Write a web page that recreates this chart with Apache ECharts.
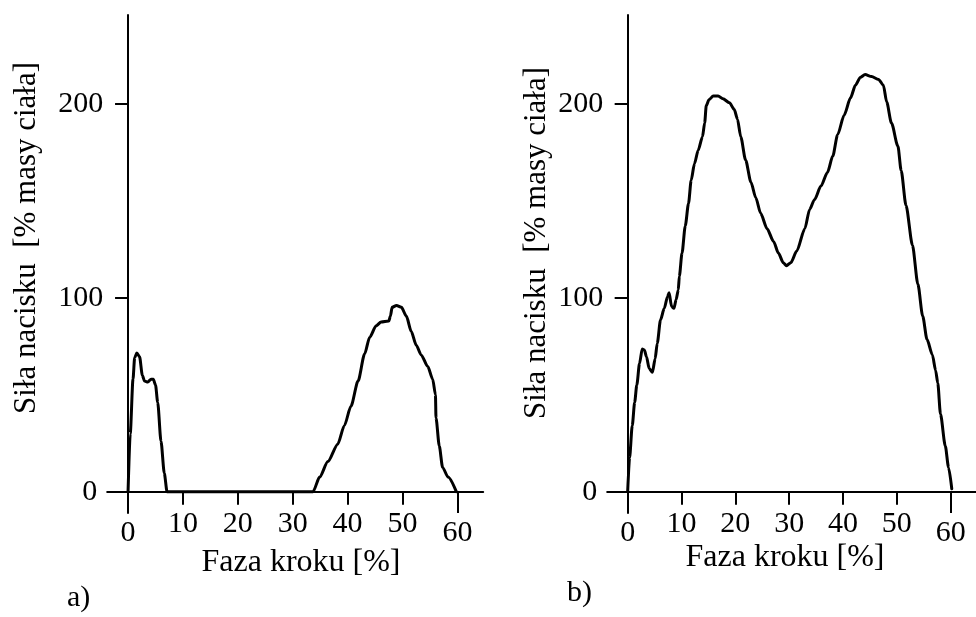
<!DOCTYPE html>
<html>
<head>
<meta charset="utf-8">
<script src="https://cdn.jsdelivr.net/npm/echarts@6/dist/echarts.min.js"></script>
<style>
  html, body { margin: 0; padding: 0; background: #fff; }
  #main { width: 976px; height: 617px; }
</style>
</head>
<body>
<div id="main"></div>
<script>
// wykres a) - faza kroku [%] i sila nacisku [% masy ciala]
var phaseA = [0, 0.4, 0.9, 1.2, 1.6, 2.1, 2.6, 3.0, 3.6, 4.2, 4.6, 5.0, 5.4, 6.0, 6.6, 7.1,
              33.7, 34.9, 36.4, 38.2, 39.4, 40.6, 41.9, 43.1, 44.0, 45.2, 46.1, 47.5, 47.8, 48.1,
              48.9, 49.8, 50.7, 51.6, 52.5, 53.4, 54.6, 55.5, 56.0, 56.1, 56.7, 57.3, 58.3, 59.8];
var forceA = [0, 30, 58, 69, 71.5, 69.5, 60, 57, 56.5, 58, 58, 55, 46, 26, 9.5, 0,
              0, 7.5, 15.5, 24.5, 34, 44, 57, 71, 79.5, 85.5, 87.5, 88, 90.5, 95,
              96, 95, 90.5, 82.5, 75.5, 70.5, 64.5, 58, 50, 38, 23.5, 12.5, 7.5, 0];

// wykres b)
var phaseB = [0, 0.36, 0.85, 1.3, 1.7, 2.2, 2.7, 3.1, 3.5, 4.0, 4.6, 5.1, 5.5, 6.1, 6.8, 7.4, 7.7,
              8.15, 8.6, 9.0, 9.4, 9.6, 10.1, 10.7, 11.3, 11.8, 12.4, 13.1, 13.9, 14.3, 14.6, 15.1,
              15.9, 16.8, 17.7, 18.9, 19.8, 20.4, 21.0, 21.9, 22.9, 23.8, 24.7, 25.9, 27.1, 28.0,
              28.9, 29.5, 30.3, 31.4, 32.9, 33.8, 34.7, 35.9, 37.1, 38.1, 39.0, 40.2, 41.4, 42.3,
              43.2, 44.1, 45.3, 46.6, 47.5, 48.1, 49.0, 50.2, 50.8, 51.7, 52.9, 53.9, 54.8, 55.6,
              56.6, 57.2, 57.6, 58.1, 59.0, 59.6, 60.2];
var forceB = [0, 17.5, 34, 46, 55, 66, 73.5, 73, 69.5, 63.5, 61.5, 68.5, 76.5, 88.5, 94.5, 100.5, 102.5,
              95.5, 94.5, 99, 104, 111, 123, 137, 148.5, 160.5, 169, 176, 183, 190, 199, 202,
              204, 204, 202.5, 200.5, 197, 192, 183, 171, 159.5, 151.5, 143.5, 135.5, 129, 123,
              118, 116.5, 118, 124, 135.5, 145.5, 150.5, 157.5, 164.5, 173, 184, 194, 203, 209.5,
              213.5, 215, 214, 212.5, 209.5, 201, 190, 178, 165.5, 147.5, 127, 107, 90.5, 78.5,
              70.5, 62.5, 56, 40, 23.5, 12.5, 1.5];

var xTicks = [10, 20, 30, 40, 50];
var xEndLabels = [0, 60];
var yTicks = [100, 200];
var yLabels = [0, 100, 200];

var font = 'Liberation Serif';
var black = '#000';

function pairs(xs, ys) {
  var out = [];
  for (var i = 0; i < xs.length; i++) out.push([xs[i], ys[i]]);
  return out;
}

function mainX(grid) {
  return {
    type: 'value', gridIndex: grid, position: 'bottom', min: -3.8, max: 64.7,
    axisLine: { onZero: true, lineStyle: { color: black, width: 2 } },
    axisTick: { show: true, customValues: xTicks, length: 13, lineStyle: { color: black, width: 2 } },
    axisLabel: { customValues: xTicks, margin: -4, color: black, fontFamily: font, fontSize: 30 },
    splitLine: { show: false }
  };
}
// dluga kreska przy 60 i podpisy 0 / 60 (nizej niz reszta)
function endX(grid) {
  return {
    type: 'value', gridIndex: grid, position: 'bottom', min: -3.8, max: 64.7,
    axisLine: { show: false, onZero: false },
    axisTick: { show: true, inside: true, customValues: [60], length: 21, lineStyle: { color: black, width: 2 } },
    axisLabel: { customValues: xEndLabels, margin: 5, color: black, fontFamily: font, fontSize: 30 },
    splitLine: { show: false }
  };
}
function mainY(grid) {
  return {
    type: 'value', gridIndex: grid, min: -11, max: 245.7,
    axisLine: { show: true, onZero: true, lineStyle: { color: black, width: 2 } },
    axisTick: { show: true, customValues: yTicks, length: 13, lineStyle: { color: black, width: 2 } },
    axisLabel: {
      customValues: yLabels, margin: 4, color: black, fontFamily: font, fontSize: 30,
      formatter: function (v) { return v === 0 ? '{z|0}' : String(v); },
      rich: { z: { padding: [0, 6, 0, 0], color: black, fontFamily: font, fontSize: 30 } }
    },
    splitLine: { show: false }
  };
}
function txt(x, y, text, size, rot, align) {
  return {
    type: 'text', x: x, y: y, rotation: rot || 0,
    style: { text: text, fill: black, font: size + 'px "' + font + '"',
             align: align || 'center', verticalAlign: 'middle',
             textAlign: align || 'center', textVerticalAlign: 'middle' }
  };
}

var myChart = echarts.init(document.getElementById('main'), null, { renderer: 'canvas' });
var option = {
  backgroundColor: '#fff',
  animation: false,
  grid: [
    { left: 107.2, top: 15, width: 376, height: 498 },
    { left: 607.2, top: 15, width: 374, height: 498 }
  ],
  xAxis: [mainX(0), endX(0), mainX(1), endX(1)],
  yAxis: [mainY(0), mainY(1)],
  series: [
    {
      type: 'line', xAxisIndex: 0, yAxisIndex: 0, data: pairs(phaseA, forceA),
      showSymbol: false, smooth: 0.25, smoothMonotone: 'x',
      lineStyle: { color: black, width: 3, join: 'round', cap: 'round' }
    },
    {
      type: 'line', xAxisIndex: 2, yAxisIndex: 1, data: pairs(phaseB, forceB),
      showSymbol: false, smooth: 0.25, smoothMonotone: 'x',
      lineStyle: { color: black, width: 3, join: 'round', cap: 'round' }
    }
  ],
  graphic: [
    txt(27, 238, 'Siła nacisku  [% masy ciała]', 31, Math.PI / 2),
    txt(537, 243, 'Siła nacisku  [% masy ciała]', 31, Math.PI / 2),
    txt(301, 563, 'Faza kroku [%]', 32),
    txt(785, 558, 'Faza kroku [%]', 32),
    txt(67, 598, 'a)', 30, 0, 'left'),
    txt(567, 593, 'b)', 30, 0, 'left')
  ]
};
myChart.setOption(option);
</script>
</body>
</html>
